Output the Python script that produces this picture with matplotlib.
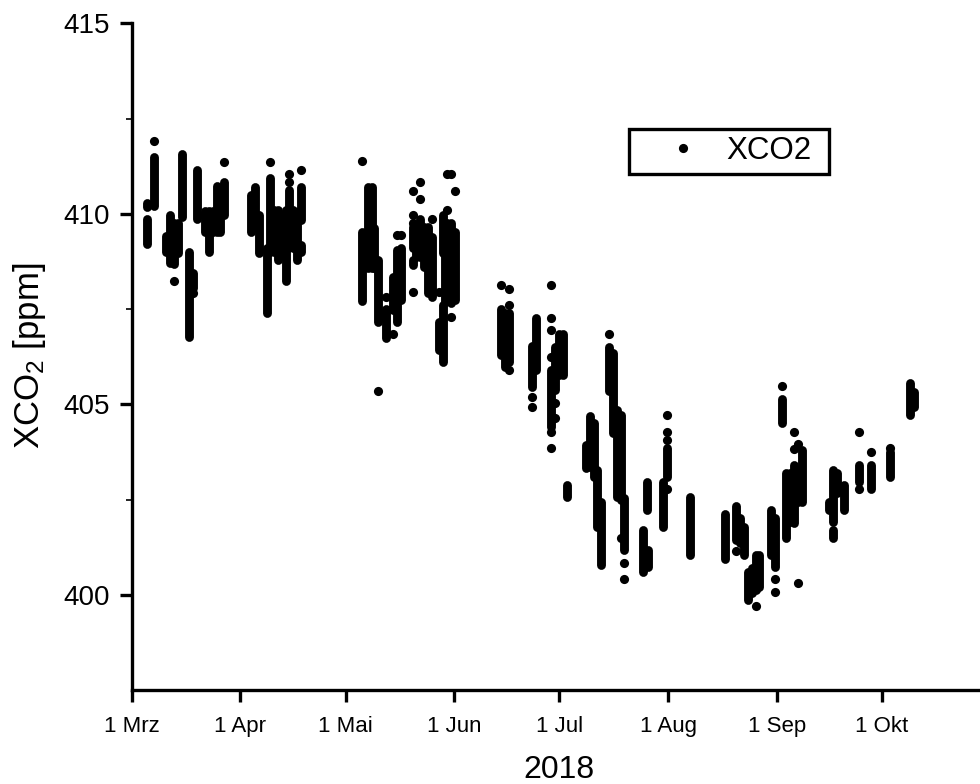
import matplotlib
matplotlib.use("Agg")
import matplotlib.pyplot as plt
from matplotlib.patches import Rectangle

plt.rcParams['font.family'] = ['Liberation Sans', 'DejaVu Sans']
plt.rcParams['mathtext.fontset'] = 'custom'
plt.rcParams['mathtext.rm'] = 'Liberation Sans'
plt.rcParams['mathtext.default'] = 'regular'

# --- data, days since 1 March 2018 / ppm ---

tick_days = [0, 31, 61, 92, 122, 153, 184, 214]
tick_labels = ['1 Mrz', '1 Apr', '1 Mai', '1 Jun', '1 Jul', '1 Aug', '1 Sep', '1 Okt']

# dense runs of soundings: one day, lowest and highest value
strip_days = [4.28, 4.28, 6.45, 9.78, 10.92, 12.06, 14.26, 13.29, 16.43, 17.57,
              18.71, 20.9, 22.05, 23.2, 24.24, 25.3, 26.41, 34.0, 35.16, 36.3, 38.5, 39.53,
              40.67, 41.81, 42.9, 43.92, 44.95, 46.09, 47.23, 48.28, 48.28,
              65.77, 67.48, 68.53, 69.19, 70.33, 72.53, 74.6, 75.75, 76.89,
              80.14, 80.14, 81.2, 82.31, 83.4, 84.5, 85.64, 87.73, 88.87, 88.87, 89.4, 90.01,
              91.15, 92.29,
              105.41, 106.47, 107.61, 114.17, 115.31, 119.67, 120.81, 121.95,
              123.09, 124.06, 129.56, 130.7, 131.84, 132.78, 133.92, 136.12,
              137.18, 138.32, 139.46, 140.49, 147.05, 145.91, 147.33,
              152.67, 151.53, 159.24, 169.14, 172.45, 173.59, 174.73, 175.77,
              176.83, 177.97, 179.0, 182.33, 183.47,
              185.55, 186.69, 187.75, 188.89, 190.03, 191.08, 198.87, 199.92,
              199.92, 201.07, 203.23, 207.52, 210.86, 216.36, 221.9, 223.1]
strip_low = [409.22, 410.19, 410.21, 409.0, 408.72, 408.69, 409.92, 408.98, 406.77, 408.06,
             409.87, 409.53, 409.0, 409.53, 409.53, 409.53, 409.98, 409.53, 409.85, 408.98, 407.40, 409.0,
             409.0, 408.8, 409.06, 408.24, 409.14, 409.11, 408.8, 409.85, 409.0,
             407.72, 408.59, 408.59, 408.59, 407.17, 406.75, 407.48, 407.17, 407.75,
             409.11, 408.66, 408.87, 408.87, 408.6, 407.93, 407.82, 406.43, 408.98, 406.12, 407.7, 408.0,
             407.67, 407.75,
             406.30, 405.99, 406.12, 405.46, 405.91, 404.41, 405.38, 405.78,
             405.78, 402.57, 403.33, 403.36, 403.10, 401.79, 400.79, 405.36,
             404.25, 402.57, 402.49, 401.18, 402.23, 400.6, 400.74,
             403.10, 401.79, 401.05, 400.95, 401.44, 401.37, 401.05, 399.87,
             400.05, 400.13, 400.21, 401.05, 400.74,
             404.52, 401.50, 401.92, 401.89, 402.44, 402.44, 402.23, 401.92,
             401.50, 402.68, 402.23, 402.97, 402.78, 403.10, 404.73, 404.94]
strip_high = [409.87, 410.29, 411.50, 409.43, 409.98, 409.77, 411.58, 409.77, 409.0, 408.45,
              411.16, 410.08, 410.08, 410.08, 410.74, 410.50, 410.84, 410.50, 410.71, 409.98, 409.11, 410.95,
              410.11, 410.11, 409.98, 410.11, 410.63, 410.11, 410.05, 410.71, 409.19,
              409.53, 410.71, 410.71, 409.63, 408.80, 407.51, 408.35, 409.06, 409.11,
              409.66, 408.80, 409.66, 409.87, 409.66, 409.66, 409.40, 407.17, 409.98, 407.61, 409.77, 409.77,
              409.77, 409.53,
              407.51, 407.40, 407.40, 406.54, 407.27, 405.91, 406.51, 406.85,
              406.85, 402.89, 403.94, 404.70, 404.52, 403.28, 402.44, 406.51,
              406.35, 404.86, 404.73, 402.55, 402.97, 401.71, 401.18,
              403.86, 402.97, 402.57, 402.13, 402.34, 402.02, 401.79, 400.60,
              400.71, 401.05, 401.05, 402.23, 402.02,
              405.15, 403.20, 403.20, 403.41, 403.28, 403.81, 402.44, 403.28,
              401.71, 403.20, 402.89, 403.41, 403.41, 403.74, 405.57, 405.33]

# single soundings that stand apart
point_days = [6.45, 12.06, 17.57, 26.41, 39.53, 44.95, 44.95, 48.28,
              65.77, 70.33, 72.53, 74.6, 75.75, 76.89, 80.14, 80.14, 80.14, 80.14,
              82.31, 82.31, 85.64, 87.73, 90.01, 90.01, 91.15, 91.15, 92.29,
              105.41, 107.61, 107.61, 107.61, 114.17, 114.17, 119.67, 119.67,
              119.67, 119.67, 119.67, 119.67, 120.81, 120.81, 136.12, 139.46,
              140.49, 140.49,
              152.67, 152.67, 152.67, 152.67, 172.45, 177.97, 183.47, 183.47,
              185.55, 188.89, 188.89, 190.03, 189.95, 207.52, 207.52, 210.86, 216.36]
point_values = [411.91, 408.25, 407.93, 411.37, 411.37, 411.05, 410.84, 411.16,
                411.38, 405.36, 407.82, 406.85, 409.45, 409.45, 409.98, 409.77, 407.94, 410.61,
                410.83, 410.40, 409.87, 407.94, 410.09, 411.05, 411.05, 407.3, 410.61,
                408.14, 408.03, 407.61, 405.91, 405.20, 404.94, 408.14, 407.27,
                406.96, 406.25, 404.28, 403.86, 405.04, 404.65, 406.85, 401.5,
                400.84, 400.42,
                404.71, 404.28, 404.07, 402.78, 401.16, 399.71, 400.42, 400.08,
                405.47, 404.28, 403.83, 403.96, 400.32, 404.28, 402.78, 403.75, 403.86]

# --- plot ---

fig = plt.figure(figsize=(9.8, 7.84), dpi=100)
ax = fig.add_axes([131.7 / 980, 94 / 784, 848.3 / 980, 667.3 / 784])

ax.vlines(strip_days, strip_low, strip_high, color='black', linewidth=6.4,
          capstyle='round')
ax.plot(point_days, point_values, 'o', color='black', markersize=6.6,
        markeredgewidth=0, label='XCO2')

ax.set_xlim(0, 241.96)
ax.set_ylim(397.5, 415.02)

ax.spines['top'].set_visible(False)
ax.spines['right'].set_visible(False)
ax.spines['left'].set_linewidth(2.4)
ax.spines['bottom'].set_linewidth(2.4)

ax.set_xticks(tick_days)
ax.set_xticklabels(tick_labels, fontsize=16)
ax.set_yticks([400, 405, 410, 415])
ax.set_yticks([402.5, 407.5, 412.5], minor=True)
ax.tick_params(axis='both', which='major', length=8.6, width=2.4)
ax.tick_params(axis='x', pad=10)
ax.tick_params(axis='y', which='major', labelsize=20, pad=7)
ax.tick_params(axis='y', which='minor', length=4.5, width=1.2)

fig.text(30 / 980, 1 - 356 / 784, 'XCO$_2$ [ppm]', rotation=90, fontsize=25,
         ha='center', va='center')
fig.text(559 / 980, 1 - 770 / 784, '2018', fontsize=23, ha='center', va='center')

# legend frame is drawn by hand, the default padding can not be uneven
ax.add_patch(Rectangle((628.5 / 980, 1 - 174 / 784), 200.5 / 980, 45 / 784,
                       transform=fig.transFigure, facecolor='white',
                       edgecolor='black', linewidth=2.4, zorder=4, clip_on=False))
leg = ax.legend(loc='center left', bbox_to_anchor=(636 / 980, 1 - 151 / 784),
                bbox_transform=fig.transFigure, frameon=False, fontsize=22.5,
                handlelength=3.0, handletextpad=-0.1, borderpad=0, borderaxespad=0)
leg.set_zorder(5)

fig.savefig('out.png', dpi=100)
